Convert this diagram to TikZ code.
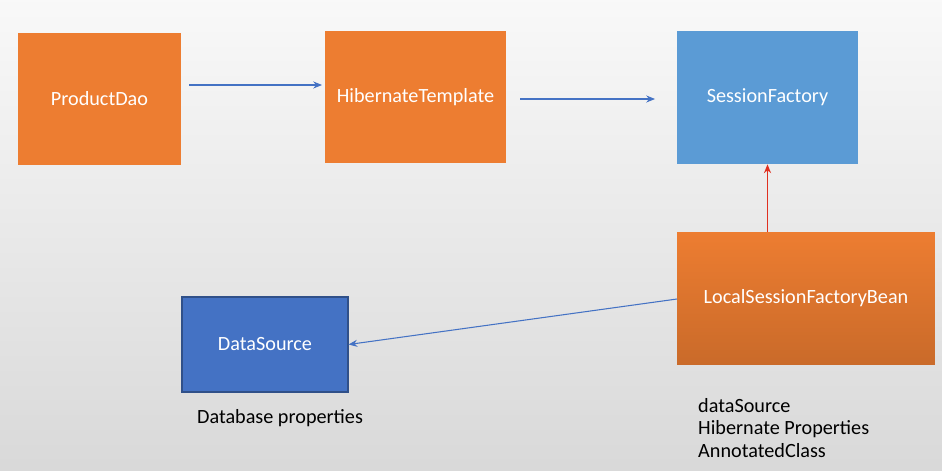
\documentclass[tikz,border=0pt]{standalone}
\usepackage{fontspec}
\setmainfont{Carlito}
\usetikzlibrary{arrows.meta}
\definecolor{org}{HTML}{ED7D31}
\definecolor{lblue}{HTML}{5B9BD5}
\definecolor{dblue}{HTML}{4472C4}
\definecolor{arr}{HTML}{4472C4}
\definecolor{rarr}{HTML}{E03020}
\begin{document}
\begin{tikzpicture}[x=0.02cm,y=-0.02cm,
  box/.style={draw=none,inner sep=0,text=white,font=\fontsize{11.5}{14}\selectfont},
  con/.style={-{Stealth[length=5pt,width=4pt]},draw=arr,line width=0.6pt},
  lab/.style={font=\fontsize{11.5}{14}\selectfont,text=black}]
\shade[top color=white!95!gray,bottom color=black!15] (0,0) rectangle (942,470);
\useasboundingbox (0,0) rectangle (942,470);
\node[box,fill=org,minimum width=3.26cm,minimum height=2.64cm] (pd) at (99.5,99) {ProductDao};
\node[box,fill=org,minimum width=3.62cm,minimum height=2.64cm] (ht) at (415.5,97) {HibernateTemplate};
\node[box,fill=lblue,minimum width=3.62cm,minimum height=2.66cm] (sf) at (767.5,97.5) {SessionFactory};
\node[box,top color=org,bottom color=org!85!black,minimum width=5.16cm,minimum height=2.66cm] (ls) at (806,298.5) {LocalSessionFactoryBean};
\node[box,fill=dblue,draw=dblue!70!black,line width=0.6pt,minimum width=3.32cm,minimum height=1.9cm] (ds) at (265,344.5) {DataSource};
\coordinate (a1) at (189,85); \coordinate (a2) at (322,85);
\draw[con] (a1) -- (a2);
\coordinate (b1) at (520,99); \coordinate (b2) at (655,99);
\draw[con] (b1) -- (b2);
\draw[con,draw=rarr,fill=rarr,line width=0.8pt] (sf.south |- ls.north) -- (sf.south);
\coordinate (c1) at (677,299);
\draw[con] (c1) -- (ds.east);
\node[lab] (dp) at (280,418) {Database properties};
\node[lab,anchor=west,align=left] (props) at (692,428) {dataSource\\[-1pt]Hibernate Properties\\[-1pt]AnnotatedClass};
\end{tikzpicture}
\end{document}
